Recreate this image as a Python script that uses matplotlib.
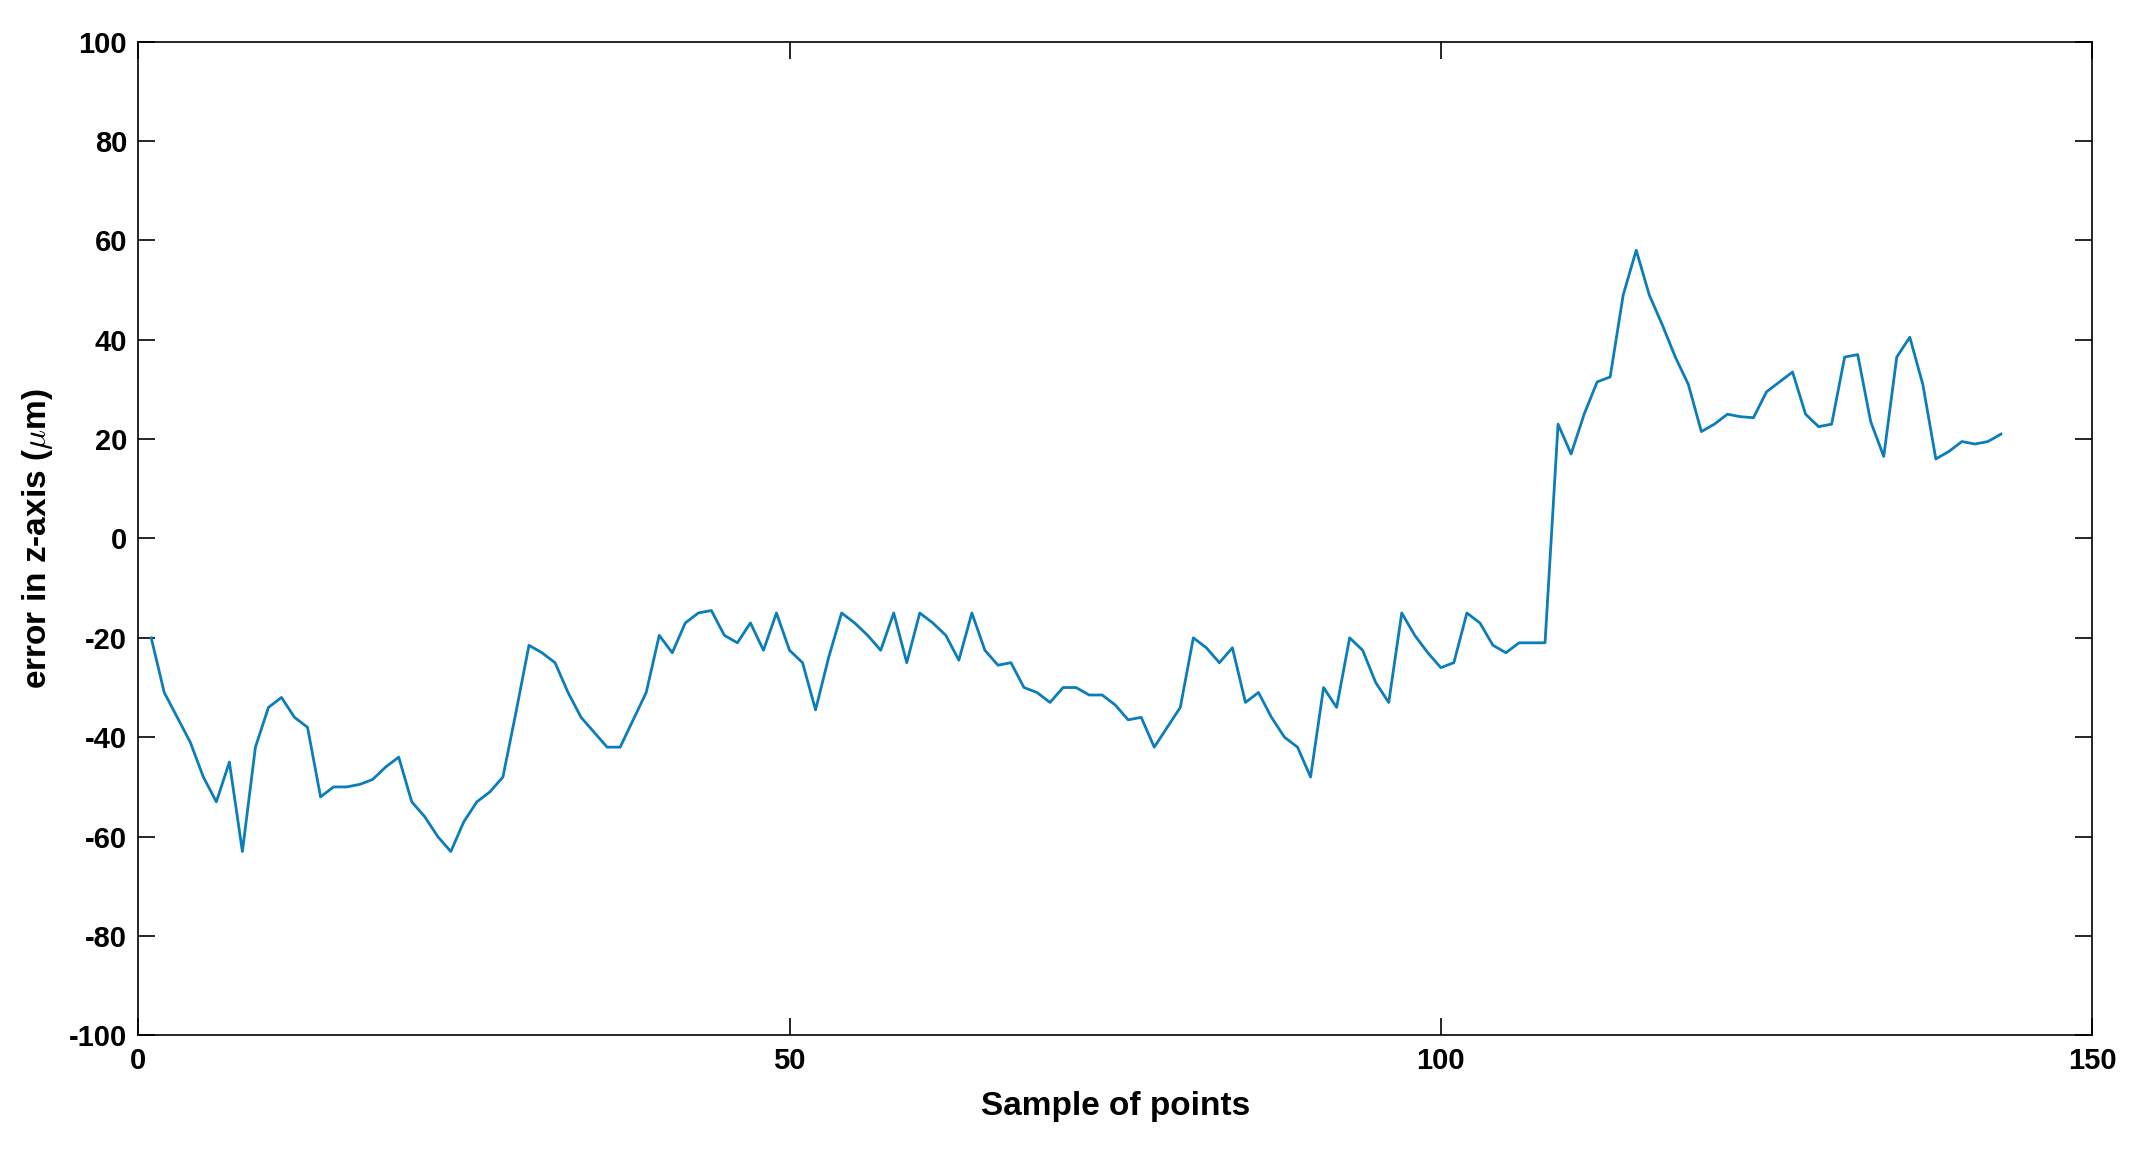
import matplotlib
matplotlib.use("Agg")
import matplotlib.pyplot as plt
import numpy as np

error_um = [-20,-31,-36,-41,-48,-53,-45,-63,-42,-34,-32,-36,-38,-52,-50,-50,-49.5,-48.5,-46,-44,
            -53,-56,-60,-63,-57,-53,-51,-48,-35,-21.5,-23,-25,-31,-36,-39,-42,-42,-36.5,-31,-19.5,
            -23,-17,-15,-14.5,-19.5,-21,-17,-22.5,-15,-22.5,-25,-34.5,-24,-15,-17,-19.5,-22.5,-15,-25,-15,
            -17,-19.5,-24.5,-15,-22.5,-25.5,-25,-30,-31,-33,-30,-30,-31.5,-31.5,-33.5,-36.5,-36,-42,-38,-34,
            -20,-22,-25,-22,-33,-31,-36,-40,-42,-48,-30,-34,-20,-22.5,-29,-33,-15,-19.5,-23,-26,
            -25,-15,-17,-21.5,-23,-21,-21,-21,23,17,25,31.5,32.5,49,58,49,43,36.5,31,21.5,
            23,25,24.5,24.3,29.5,31.5,33.5,25,22.5,23,36.5,37,23.5,16.5,36.5,40.5,31,16,17.5,19.5,
            19,19.5,21]
sample = np.arange(1, len(error_um) + 1)
xticks = [0, 50, 100, 150]
yticks = [-100, -80, -60, -40, -20, 0, 20, 40, 60, 80, 100]

plt.rcParams['font.family'] = ['Liberation Sans', 'DejaVu Sans']
plt.rcParams['font.weight'] = 'bold'
plt.rcParams['mathtext.fontset'] = 'cm'
plt.rcParams['axes.unicode_minus'] = False

fig = plt.figure(figsize=(21.39, 11.53), dpi=100)
ax = fig.add_axes([0.0646, 0.102, 0.9135, 0.862])
ax.plot(sample, error_um, color='#0A7DBA', lw=2)
ax.set_xlim(0, 150)
ax.set_ylim(-100, 100)
ax.set_xticks(xticks)
ax.set_yticks(yticks)
ax.tick_params(direction='in', top=True, right=True, length=12, width=1.2, labelsize=21, pad=8)
for s in ax.spines.values():
    s.set_linewidth(1.2)
ax.set_xlabel('Sample of points', fontsize=24, fontweight='bold', labelpad=12)
ax.set_ylabel(r'error in z-axis ($\mu$m)', fontsize=24, fontweight='bold', labelpad=10)
fig.savefig('out.png', dpi=100)
